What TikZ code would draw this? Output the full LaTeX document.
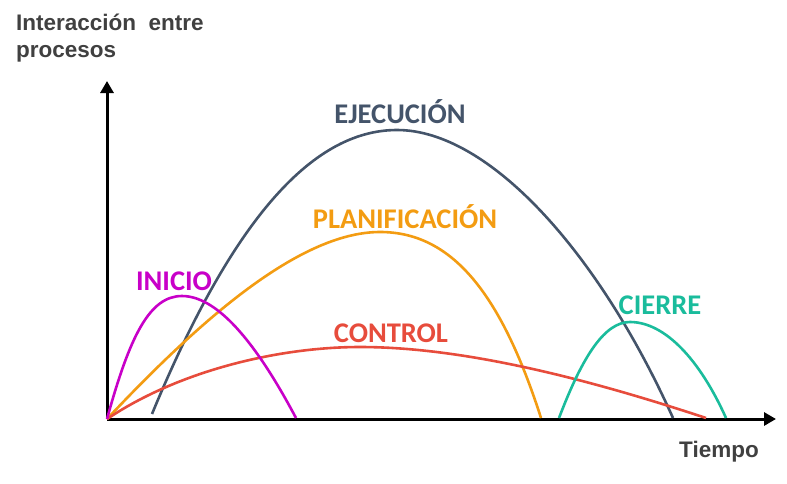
\documentclass[tikz,border=0pt]{standalone}
\usepackage{fontspec}
\setmainfont{Carlito}
\newfontfamily\axisfont{Liberation Sans}
\usepackage{tikz}
\usetikzlibrary{arrows.meta}
\definecolor{ejec}{HTML}{44546A}
\definecolor{plan}{HTML}{F39C12}
\definecolor{ini}{HTML}{C800C8}
\definecolor{ctrl}{HTML}{E74C3C}
\definecolor{cier}{HTML}{1ABC9C}
\definecolor{axtext}{HTML}{404040}

\begin{document}
\begin{tikzpicture}[x=1pt, y=-1pt, axis/.style={line width=3pt, -{Triangle[length=12pt, width=13pt]}}, curve/.style={line width=2.6pt}, lbl/.style={font=\bfseries\fontsize{28.5}{28.5}\selectfont}, axlbl/.style={font=\axisfont\bfseries\fontsize{22.5}{27}\selectfont, text=axtext, align=left, inner sep=0pt}]
            \useasboundingbox (0,0) rectangle (787,483);
            % axes
            \coordinate (o) at (107,419);
            \coordinate (ytop) at (107,81);
            \coordinate (xend) at (776,419);
            \draw [axis] (o) -- (ytop);
            \draw [axis] (o) -- (xend);

            \node[axlbl, anchor=north west] (ylabel) at (16,14) {Interacci\'on\ \ entre\\procesos};
            \node[axlbl, anchor=north east] (xlabel) at (759,441) {Tiempo};

            % curves
            \draw [curve, ejec] (152,414) .. controls (230,225) and (310,130) .. (397,130) .. controls (490,130) and (600,255) .. (673,418);
            \draw [curve, plan] (o) .. controls (200,320) and (300,232) .. (380,232) .. controls (450,232) and (500,290) .. (541,418);
            \draw [curve, ctrl] (o) .. controls (180,370) and (280,347) .. (360,347) .. controls (470,347) and (600,383) .. (706,418);
            \draw [curve, ini] (o) .. controls (130,335) and (150,296) .. (182,296) .. controls (220,296) and (260,350) .. (296,418);
            \draw [curve, cier] (559,418) .. controls (583,355) and (605,322) .. (630,322) .. controls (665,322) and (700,360) .. (726,418);

            % labels
            \node[lbl, text=ejec] (lejec) at (400,112) {EJECUCI\'ON};
            \node[lbl, text=plan] (lplan) at (405,217) {PLANIFICACI\'ON};
            \node[lbl, text=ini] (lini) at (174,281) {INICIO};
            \node[lbl, text=ctrl] (lctrl) at (391,333) {CONTROL};
            \node[lbl, text=cier] (lcier) at (660,305) {CIERRE};
        \end{tikzpicture}
\end{document}
